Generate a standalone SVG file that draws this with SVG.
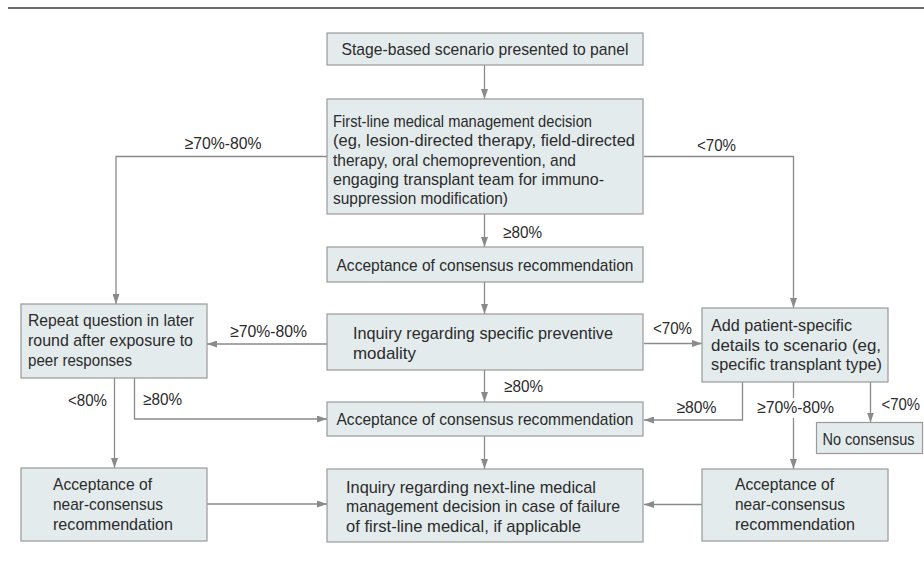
<svg xmlns="http://www.w3.org/2000/svg" width="924" height="562" viewBox="0 0 924 562">
<defs>
<marker id="ah" markerUnits="userSpaceOnUse" markerWidth="10" markerHeight="7" refX="10" refY="3.5" orient="auto">
<path d="M0,0 L10,3.5 L0,7 Z" fill="#8a8a8a"/>
</marker>
<style>
.box{fill:#e4ebed;stroke:#9a9a9a;stroke-width:1.2}
.t{font-family:"Liberation Sans",Arial,sans-serif;font-size:17px;fill:#2b2b2b}
.c{text-anchor:middle}
.ln{fill:none;stroke:#8a8a8a;stroke-width:1.3}
.a{marker-end:url(#ah)}
.lbl{font-family:"Liberation Sans",Arial,sans-serif;font-size:17px;fill:#2b2b2b}
</style>
</defs>
<rect width="924" height="562" fill="#ffffff"/>
<line x1="8" y1="8" x2="924" y2="8" stroke="#3a3a3a" stroke-width="1.5"/>

<g id="connectors">
<path class="ln a" d="M484.5,65 V99"/>
<path class="ln a" d="M327,156.5 H116 V304"/>
<path class="ln a" d="M644,156.5 H793.5 V308"/>
<path class="ln a" d="M484.5,214 V247"/>
<path class="ln a" d="M484.5,282 V314"/>
<path class="ln a" d="M327,344 H207"/>
<path class="ln a" d="M644,343.5 H702"/>
<path class="ln a" d="M484.5,370 V402"/>
<path class="ln a" d="M114.5,378 V468"/>
<path class="ln a" d="M134.5,378 V419 H327"/>
<path class="ln a" d="M742.5,382 V420 H644"/>
<path class="ln a" d="M793.5,382 V469"/>
<path class="ln a" d="M870.5,382 V422.5"/>
<path class="ln a" d="M207,504 H327"/>
<path class="ln a" d="M484.5,436 V469"/>
<path class="ln a" d="M702,504.5 H644"/>
</g>

<g id="labels">
<text class="lbl" x="184.5" y="149.3" textLength="77" lengthAdjust="spacingAndGlyphs">≥70%-80%</text>
<text class="lbl" x="697" y="150.5" textLength="39" lengthAdjust="spacingAndGlyphs">&lt;70%</text>
<text class="lbl" x="503" y="238" textLength="39" lengthAdjust="spacingAndGlyphs">≥80%</text>
<text class="lbl" x="230" y="336.7" textLength="77" lengthAdjust="spacingAndGlyphs">≥70%-80%</text>
<text class="lbl" x="653" y="334" textLength="39" lengthAdjust="spacingAndGlyphs">&lt;70%</text>
<text class="lbl" x="504" y="392" textLength="39" lengthAdjust="spacingAndGlyphs">≥80%</text>
<text class="lbl" x="68" y="405.5" textLength="39" lengthAdjust="spacingAndGlyphs">&lt;80%</text>
<text class="lbl" x="143" y="405" textLength="39" lengthAdjust="spacingAndGlyphs">≥80%</text>
<text class="lbl" x="676.5" y="413" textLength="40" lengthAdjust="spacingAndGlyphs">≥80%</text>
<rect x="754" y="398" width="82" height="20" fill="#ffffff"/>
<text class="lbl" x="757" y="413" textLength="77" lengthAdjust="spacingAndGlyphs">≥70%-80%</text>
<text class="lbl" x="881.5" y="410" textLength="38.5" lengthAdjust="spacingAndGlyphs">&lt;70%</text>
</g>

<g id="n1">
<rect class="box" x="327" y="33" width="316" height="32"/>
<text class="t c" x="485" y="55" textLength="287" lengthAdjust="spacingAndGlyphs">Stage-based scenario presented to panel</text>
</g>

<g id="n2">
<rect class="box" x="327" y="99" width="316" height="115"/>
<text class="t" x="333" y="127" textLength="259" lengthAdjust="spacingAndGlyphs">First-line medical management decision</text>
<text class="t" x="333" y="146.3" textLength="302" lengthAdjust="spacingAndGlyphs">(eg, lesion-directed therapy, field-directed</text>
<text class="t" x="333" y="165.6" textLength="243" lengthAdjust="spacingAndGlyphs">therapy, oral chemoprevention, and</text>
<text class="t" x="333" y="185" textLength="271" lengthAdjust="spacingAndGlyphs">engaging transplant team for immuno-</text>
<text class="t" x="333" y="204.3" textLength="175" lengthAdjust="spacingAndGlyphs">suppression modification)</text>
</g>

<g id="n3">
<rect class="box" x="327" y="247" width="316" height="35"/>
<text class="t c" x="485" y="270.5" textLength="297" lengthAdjust="spacingAndGlyphs">Acceptance of consensus recommendation</text>
</g>

<g id="n4">
<rect class="box" x="327" y="314" width="316" height="56"/>
<text class="t" x="353" y="339.3" textLength="260" lengthAdjust="spacingAndGlyphs">Inquiry regarding specific preventive</text>
<text class="t" x="353" y="358.5" textLength="63" lengthAdjust="spacingAndGlyphs">modality</text>
</g>

<g id="n5">
<rect class="box" x="327" y="402" width="316" height="34"/>
<text class="t c" x="485" y="424.7" textLength="297" lengthAdjust="spacingAndGlyphs">Acceptance of consensus recommendation</text>
</g>

<g id="n6">
<rect class="box" x="327" y="469" width="316" height="73"/>
<text class="t" x="346" y="492.7" textLength="250" lengthAdjust="spacingAndGlyphs">Inquiry regarding next-line medical</text>
<text class="t" x="346" y="512" textLength="274" lengthAdjust="spacingAndGlyphs">management decision in case of failure</text>
<text class="t" x="346" y="531.7" textLength="235" lengthAdjust="spacingAndGlyphs">of first-line medical, if applicable</text>
</g>

<g id="n7">
<rect class="box" x="21" y="304" width="186" height="74"/>
<text class="t" x="28" y="326" textLength="166" lengthAdjust="spacingAndGlyphs">Repeat question in later</text>
<text class="t" x="28" y="346" textLength="165" lengthAdjust="spacingAndGlyphs">round after exposure to</text>
<text class="t" x="28" y="366" textLength="104" lengthAdjust="spacingAndGlyphs">peer responses</text>
</g>

<g id="n8">
<rect class="box" x="21" y="468" width="186" height="73"/>
<text class="t" x="53" y="490" textLength="99" lengthAdjust="spacingAndGlyphs">Acceptance of</text>
<text class="t" x="53" y="510" textLength="110" lengthAdjust="spacingAndGlyphs">near-consensus</text>
<text class="t" x="53" y="530" textLength="120" lengthAdjust="spacingAndGlyphs">recommendation</text>
</g>

<g id="n9">
<rect class="box" x="702" y="308" width="186" height="74"/>
<text class="t" x="711" y="330.7" textLength="141" lengthAdjust="spacingAndGlyphs">Add patient-specific</text>
<text class="t" x="711" y="350.7" textLength="170" lengthAdjust="spacingAndGlyphs">details to scenario (eg,</text>
<text class="t" x="711" y="370" textLength="171" lengthAdjust="spacingAndGlyphs">specific transplant type)</text>
</g>

<g id="n10">
<rect class="box" x="702" y="469" width="186" height="72"/>
<text class="t" x="735" y="490" textLength="99" lengthAdjust="spacingAndGlyphs">Acceptance of</text>
<text class="t" x="735" y="510" textLength="110" lengthAdjust="spacingAndGlyphs">near-consensus</text>
<text class="t" x="735" y="530" textLength="120" lengthAdjust="spacingAndGlyphs">recommendation</text>
</g>

<g id="n11">
<rect class="box" x="816.5" y="422.5" width="106" height="31"/>
<text class="t" x="822.5" y="444.5" textLength="92" lengthAdjust="spacingAndGlyphs">No consensus</text>
</g>
</svg>
